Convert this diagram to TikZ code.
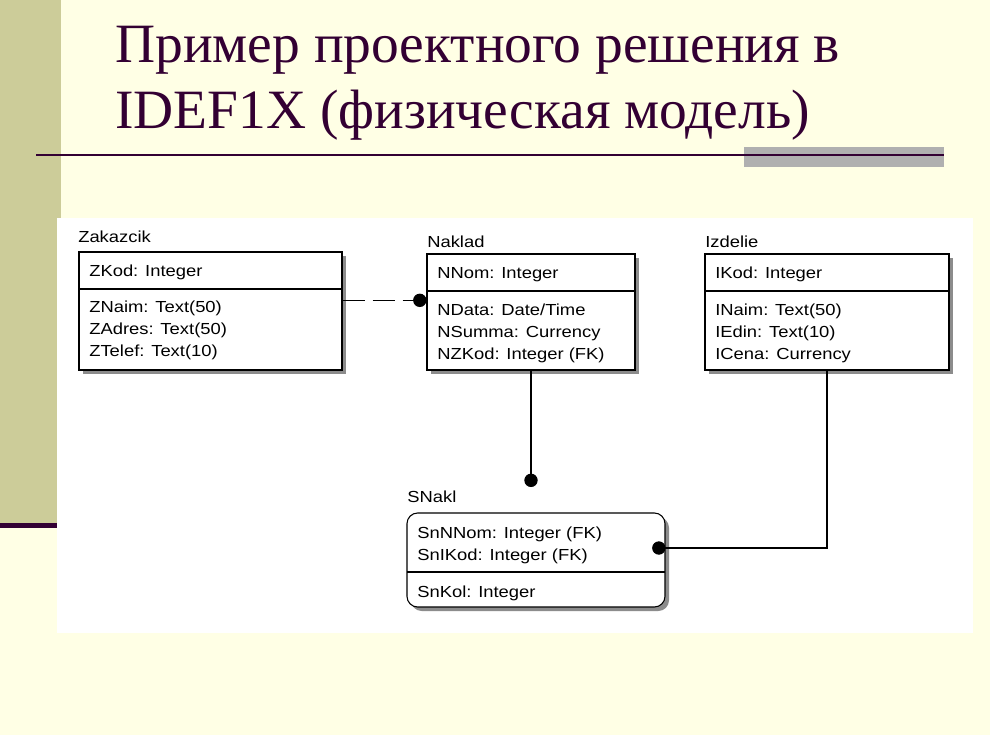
\documentclass[tikz,border=0pt]{standalone}
\usepackage{fontspec}
\usepackage{tikz}
\usetikzlibrary{fit,shadows,arrows.meta}
\setmainfont{Liberation Serif}
\newfontfamily\erfont[FakeStretch=1.15]{Liberation Sans}
\definecolor{slidebg}{RGB}{255,255,229}
\definecolor{sidebar}{RGB}{204,204,153}
\definecolor{titlecol}{RGB}{51,0,51}
\definecolor{barcol}{RGB}{176,176,176}
\tikzset{
  ebox/.style={draw=black, fill=white, inner sep=0pt, line width=0.8pt,
    drop shadow={shadow xshift=3pt, shadow yshift=-3pt, opacity=1, fill=black!45}},
  etxt/.style={anchor=base west, inner sep=0pt, font=\erfont\fontsize{12pt}{14pt}\selectfont},
  rel/.style={line width=0.8pt, -{Circle[length=10pt]}}
}

\begin{document}
\begin{tikzpicture}[x=0.75pt,y=-0.75pt]
\useasboundingbox (0,0) rectangle (990,735);
\fill[slidebg] (0,0) rectangle (990,735);
\fill[sidebar] (0,0) rectangle (61,523);
\fill[titlecol] (0,523) rectangle (61,528);
\fill[white] (57,218) rectangle (973,633);

% title
\node[anchor=base west, inner sep=0pt, text=titlecol, font=\fontsize{41.6pt}{48pt}\selectfont] (t1) at (115,63) {Пример проектного решения в};
\node[anchor=base west, inner sep=0pt, text=titlecol, font=\fontsize{41.6pt}{48pt}\selectfont] (t2) at (115,128) {IDEF1X (физическая модель)};
\fill[barcol] (744,147) rectangle (944,167);
\draw[titlecol, line width=1.5pt] (36,155) -- (944,155);

% entities
\coordinate (zakNW) at (79,252);
\coordinate (zakSE) at (342,370);
\node[ebox, fit=(zakNW)(zakSE)] (zak) {};
\draw[line width=0.8pt] (79,289) -- (342,289);
\node[etxt] (zakL) at (78,243) {Zakazcik};
\node[etxt] (z1) at (89,276) {ZKod: Integer};
\node[etxt] (z2) at (89,312) {ZNaim: Text(50)};
\node[etxt] (z3) at (89,334) {ZAdres: Text(50)};
\node[etxt] (z4) at (89,356) {ZTelef: Text(10)};

\coordinate (nakNW) at (427,254);
\coordinate (nakSE) at (635,370);
\node[ebox, fit=(nakNW)(nakSE)] (nak) {};
\draw[line width=0.8pt] (427,291) -- (635,291);
\node[etxt] (nakL) at (427,247) {Naklad};
\node[etxt] (n1) at (437,278) {NNom: Integer};
\node[etxt] (n2) at (437,315) {NData: Date/Time};
\node[etxt] (n3) at (437,337) {NSumma: Currency};
\node[etxt] (n4) at (437,359) {NZKod: Integer (FK)};

\coordinate (izdNW) at (705,254);
\coordinate (izdSE) at (949,370);
\node[ebox, fit=(izdNW)(izdSE)] (izd) {};
\draw[line width=0.8pt] (705,291) -- (949,291);
\node[etxt] (izdL) at (705,247) {Izdelie};
\node[etxt] (i1) at (715,278) {IKod: Integer};
\node[etxt] (i2) at (715,315) {INaim: Text(50)};
\node[etxt] (i3) at (715,337) {IEdin: Text(10)};
\node[etxt] (i4) at (715,359) {ICena: Currency};

\coordinate (snNW) at (407,513);
\coordinate (snSE) at (665,607);
\node[ebox, rounded corners=8pt, fit=(snNW)(snSE)] (sn) {};
\draw[line width=0.8pt] (407,572) -- (665,572);
\node[etxt] (snL) at (407,502) {SNakl};
\node[etxt] (s1) at (417,538) {SnNNom: Integer (FK)};
\node[etxt] (s2) at (417,560) {SnIKod: Integer (FK)};
\node[etxt] (s3) at (417,597) {SnKol: Integer};

% relationships
\coordinate (nakEnd) at (531,487);
\draw[rel, dash pattern=on 16.5pt off 6pt] ([yshift=8pt]zak.east) -- ([yshift=8pt]zak.east -| nak.west);
\draw[rel] (nak.south) -- (nakEnd);
\draw[rel, shorten >=-10pt] (izd.south) |- ([yshift=9pt]sn.east);
\end{tikzpicture}
\end{document}
